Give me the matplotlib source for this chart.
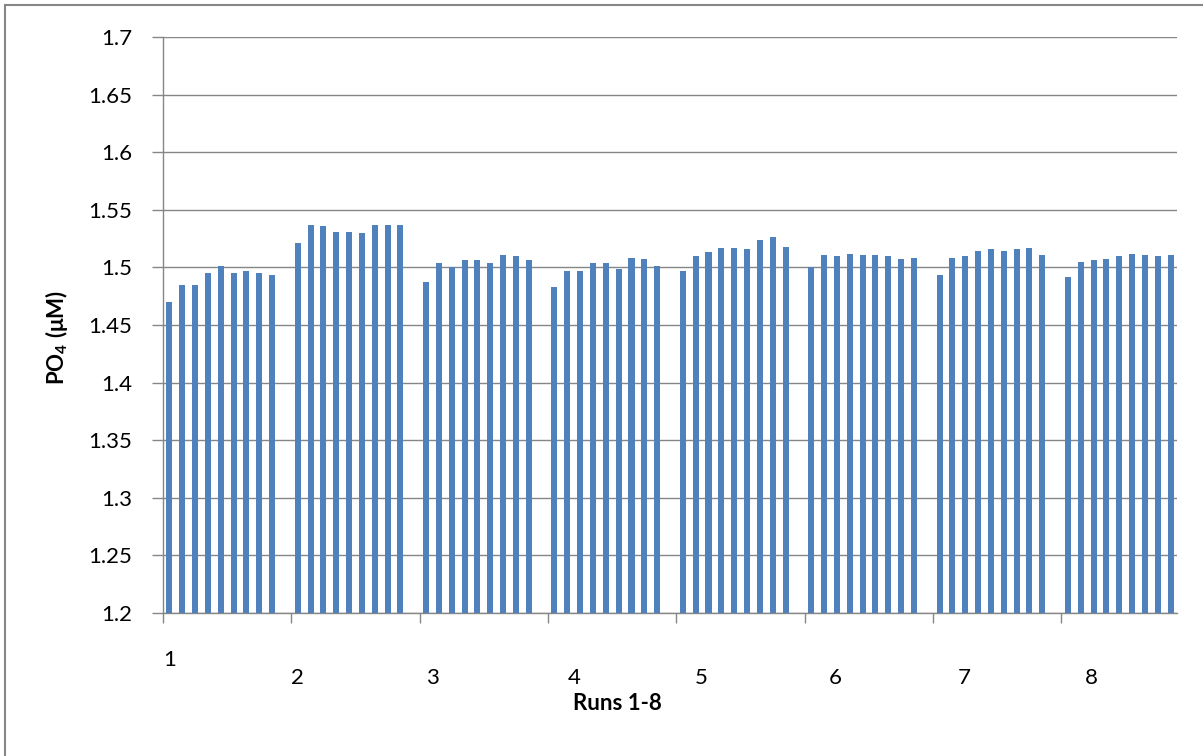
import numpy as np
import matplotlib.pyplot as plt
from matplotlib.patches import Rectangle

plt.rcParams['font.family'] = ['Lato', 'DejaVu Sans']
plt.rcParams['mathtext.fontset'] = 'custom'
plt.rcParams['mathtext.rm'] = 'Lato'
plt.rcParams['mathtext.bf'] = 'Lato:bold'

# PO4 readings, 9 replicates per run
run1 = [1.470, 1.485, 1.485, 1.495, 1.501, 1.495, 1.497, 1.495, 1.493]
run2 = [1.521, 1.537, 1.536, 1.531, 1.531, 1.530, 1.537, 1.537, 1.537]
run3 = [1.487, 1.504, 1.500, 1.506, 1.506, 1.504, 1.511, 1.510, 1.506]
run4 = [1.483, 1.497, 1.497, 1.504, 1.504, 1.499, 1.508, 1.507, 1.501]
run5 = [1.497, 1.510, 1.513, 1.517, 1.517, 1.516, 1.524, 1.526, 1.518]
run6 = [1.500, 1.511, 1.510, 1.512, 1.511, 1.511, 1.510, 1.507, 1.508]
run7 = [1.493, 1.508, 1.510, 1.514, 1.516, 1.514, 1.516, 1.517, 1.511]
run8 = [1.492, 1.505, 1.506, 1.507, 1.510, 1.512, 1.511, 1.510, 1.511]
runs = [run1, run2, run3, run4, run5, run6, run7, run8]
run_labels = ['1', '2', '3', '4', '5', '6', '7', '8']

# where the run labels sit along the category axis (categories 0..78)
label_pos = [0, 10, 20.5, 31.5, 41.4, 51.9, 61.9, 71.8]

fig = plt.figure(figsize=(12.03, 7.56), dpi=100)
ax = fig.add_axes([163 / 1203, 1 - 613 / 756, (1177 - 163) / 1203, (613 - 37) / 756])

xs, ys = [], []
for i, vals in enumerate(runs):
    for j, v in enumerate(vals):
        xs.append(i * 10 + j)
        ys.append(v)

ax.bar(xs, ys, width=0.47, color='#4F81BD', zorder=3)

ax.set_ylim(1.2, 1.7)
ax.set_xlim(-0.5, 78.5)
yt = np.arange(1.2, 1.7001, 0.05)
ax.set_yticks(yt)
ax.set_yticklabels([f'{t:g}' for t in np.round(yt, 2)], fontsize=16)
ax.yaxis.grid(True, color='#868686', lw=1, zorder=0)
ax.tick_params(axis='y', length=8, color='#868686', width=1, pad=14)

ax.set_xticks(np.arange(-0.5, 70, 10))
ax.set_xticklabels([])
ax.tick_params(axis='x', length=7, color='#868686', width=1)

for k, (lab, p) in enumerate(zip(run_labels, label_pos)):
    yy = -0.082 if k == 0 else -0.113
    ax.text(p, yy, lab, transform=ax.get_xaxis_transform(), ha='center', va='center', fontsize=16)

for s in ['top', 'right']:
    ax.spines[s].set_visible(False)
for s in ['left', 'bottom']:
    ax.spines[s].set_color('#868686')
    ax.spines[s].set_linewidth(1)

fig.text(617 / 1203, 1 - 703 / 756, 'Runs 1-8', ha='center', va='center', fontsize=16, fontweight='bold')
fig.text(57 / 1203, 1 - 338 / 756, r'$\mathbf{PO_4}$ (μM)', ha='center', va='center',
         rotation=90, fontsize=16, fontweight='bold')

fig.patches.append(Rectangle((5 / 1203, -0.1), 1.2, 1 - 5 / 756 + 0.1, transform=fig.transFigure,
                             fill=False, edgecolor='#868686', lw=1.5))

fig.savefig('out.png', dpi=100)
